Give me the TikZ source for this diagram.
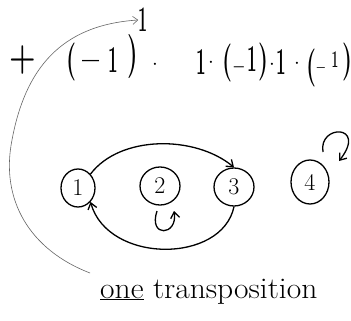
\documentclass[tikz,border=0pt]{standalone}
\usepackage{graphicx}
\usetikzlibrary{arrows.meta,shapes.geometric}
\newcommand\nrw[2]{\scalebox{#1}[1]{#2}}
\begin{document}
\begin{tikzpicture}[x=1pt,y=-1pt,
  glyph/.style={inner sep=0pt,font=\fontsize{38}{38}\selectfont\bfseries},
  smallglyph/.style={inner sep=0pt,font=\fontsize{30}{30}\selectfont\bfseries},
  dotg/.style={inner sep=0pt,font=\fontsize{22}{22}\selectfont},
  perm/.style={draw,line width=1.3pt,ellipse,minimum width=34pt,minimum height=38pt,inner sep=0pt,font=\fontsize{24}{24}\selectfont},
  map/.style={line width=1.3pt,-{Straight Barb[length=6pt,width=9pt]}},
  pointer/.style={gray!80!black,line width=0.6pt,-{Straight Barb[length=5pt,width=8pt]}}]
\useasboundingbox[fill=white] (0,0) rectangle (351,321);
% formula
\node[glyph] (plus) at (23,60) {\nrw{0.8}{+}};
\node[glyph] (p1o) at (71,62) {\nrw{0.6}{(}};
\node[glyph] (m1) at (91,66) {\nrw{0.8}{--}};
\node[glyph] (o1) at (113,60) {\nrw{0.45}{1}};
\node[glyph,font=\fontsize{44}{44}\selectfont\bfseries] (p1c) at (133,57) {\nrw{0.55}{)}};
\node[glyph,font=\fontsize{36}{36}\selectfont\bfseries] (sup) at (143,20) {\nrw{0.45}{1}};
\node[dotg] (d1) at (155,65) {$\cdot$};
\node[glyph] (o2) at (201,62) {\nrw{0.45}{1}};
\node[dotg] (d2) at (211,63) {$\cdot$};
\node[glyph] (p2o) at (227,63) {\nrw{0.6}{(}};
\node[smallglyph] (m2) at (239,71) {\nrw{0.6}{--}};
\node[glyph] (o3) at (252,59) {\nrw{0.45}{1}};
\node[glyph] (p2c) at (263,62) {\nrw{0.6}{)}};
\node[dotg] (d3) at (272,65) {$\cdot$};
\node[glyph] (o4) at (281,62) {\nrw{0.45}{1}};
\node[dotg] (d4) at (297,64) {$\cdot$};
\node[glyph] (p3o) at (311,68) {\nrw{0.6}{(}};
\node[smallglyph,font=\fontsize{24}{24}\selectfont\bfseries] (m3) at (321,71) {\nrw{0.6}{--}};
\node[glyph,font=\fontsize{24}{24}\selectfont\bfseries] (o5) at (335,60) {\nrw{0.5}{1}};
\node[glyph] (p3c) at (347,62) {\nrw{0.6}{)}};
% permutation nodes
\node[perm] (n1) at (78,188) {1};
\node[perm,minimum width=40pt] (n2) at (160,186) {2};
\node[perm,minimum width=40pt] (n3) at (234,187) {3};
\node[perm,minimum width=38pt,minimum height=44pt] (n4) at (310,182) {4};
% arrows
\draw[map] (n1.north east) .. controls (120,135) and (195,135) .. (n3.north);
\draw[map] (n3.south) .. controls (222,264) and (108,264) .. (n1.south east);
\coordinate (l2a) at (157,211);
\coordinate (l2b) at (174,211);
\draw[map] (l2a) .. controls (148,238) and (178,236) .. (l2b);
\coordinate (l4a) at (323,152);
\coordinate (l4b) at (339,161);
\draw[map] (l4a) .. controls (318,124) and (368,124) .. (l4b);
% label
\node[inner sep=0pt,anchor=base west,font=\fontsize{30}{30}\selectfont] (lab) at (100,298) {\nrw{1.05}{\underline{one} transposition}};
\coordinate (ps) at (90,273);
\draw[pointer] (ps) .. controls (30,250) and (0,200) .. (12,140)
  .. controls (25,70) and (60,25) .. (sup.west);
\end{tikzpicture}
\end{document}
